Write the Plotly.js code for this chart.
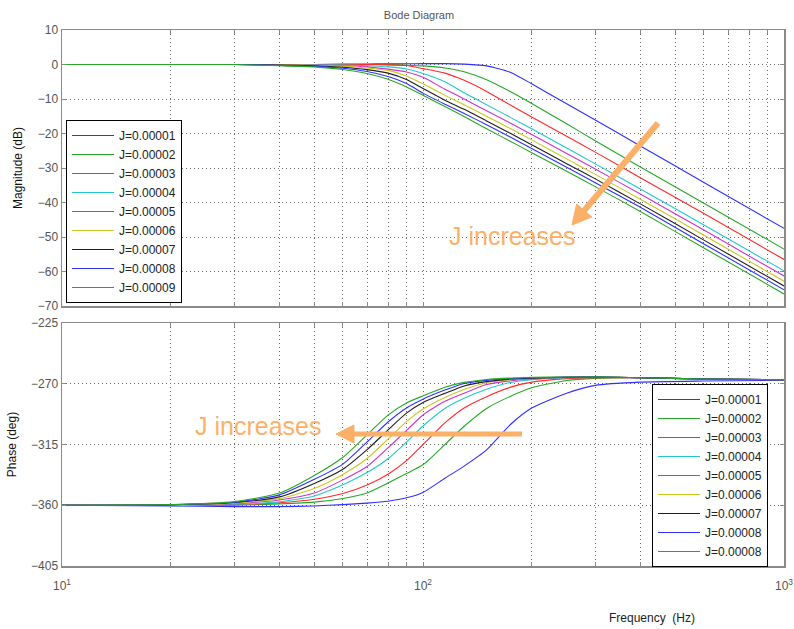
<!DOCTYPE html>
<html>
<head>
<meta charset="utf-8">
<script src="https://cdn.plot.ly/plotly-3.0.1.min.js"></script>
<style>
  html, body { margin: 0; padding: 0; background: #ffffff; }
  #chart { width: 794px; height: 629px; }
</style>
</head>
<body>
<div id="chart"></div>
<script>
// ---------------- DATA ----------------
const freq = [10, 20, 30, 40, 50, 60, 70, 80, 90, 100, 115, 130, 150, 175, 200, 250, 300, 400, 600, 1000];

const magLabels = ["J=0.00001", "J=0.00002", "J=0.00003", "J=0.00004", "J=0.00005",
                   "J=0.00006", "J=0.00007", "J=0.00008", "J=0.00009"];
const phaseLabels = ["J=0.00001", "J=0.00002", "J=0.00003", "J=0.00004", "J=0.00005",
                     "J=0.00006", "J=0.00007", "J=0.00008", "J=0.00008"];

// Magnitude (dB)
const magJ1 = [0, 0, 0, 0, 0, 0.1, 0.15, 0.2, 0.2, 0.25, 0.25, 0.1, -0.4, -2.3, -5.6, -11.4, -16.1, -23.6, -34.2, -47.5];
const magJ2 = [0, 0, 0, 0, 0, 0, 0, -0.05, -0.2, -0.4, -1.0, -2.1, -4.4, -7.9, -11.3, -17.2, -22.1, -29.7, -40.2, -53.5];
const magJ3 = [0, 0, 0, 0, 0, 0, 0, -0.1, -0.3, -1.2, -2.5, -4.6, -7.8, -11.8, -15.2, -20.8, -25.4, -32.8, -43.2, -56.5];
const magJ4 = [0, 0, 0, 0, -0.05, -0.15, -0.35, -0.7, -1.3, -2.6, -5.0, -8.2, -11.65, -15.4, -18.65, -24.2, -28.8, -36.1, -46.5, -59.8];
const magJ5 = [0, 0, 0, 0, -0.15, -0.35, -0.7, -1.35, -2.15, -3.7, -7.15, -10.0, -13.4, -17.05, -20.3, -25.8, -30.3, -37.55, -48, -61.3];
const magJ6 = [0, 0, 0, -0.05, -0.25, -0.5, -1.0, -1.7, -3.3, -5.6, -8.95, -11.65, -15.0, -18.6, -21.85, -27.35, -31.85, -39.05, -49.5, -62.8];
const magJ7 = [0, 0, 0, -0.15, -0.35, -0.8, -1.5, -2.5, -4.35, -6.95, -10.35, -13.0, -16.35, -20.0, -23.25, -28.75, -33.15, -40.4, -50.9, -64.2];
const magJ8 = [0, 0, 0, -0.25, -0.55, -1.1, -2.05, -3.5, -5.5, -8.3, -11.5, -14.2, -17.45, -21.1, -24.35, -29.8, -34.25, -41.4, -52, -65.3];
const magJ9 = [0, 0, 0, -0.35, -0.7, -1.45, -2.6, -4.3, -6.5, -8.9, -12.2, -15.1, -18.65, -22.3, -25.55, -30.95, -35.4, -42.6, -53.2, -66.5];

// Phase (deg)
const phJ1 = [-360, -360.5, -361, -361, -360.5, -359.5, -358.4, -357, -354.5, -350.5, -340, -331, -319, -300, -288, -277, -271.2, -268.8, -268, -267.5];
const phJ2 = [-360, -360, -360, -359, -357.7, -355, -351, -343.5, -336.5, -330, -315, -301.5, -288.3, -279.2, -273, -267.6, -266, -265.5, -266.5, -267];
const phJ3 = [-360, -360, -359.6, -358.2, -355.6, -351.3, -345, -337, -327, -315, -299, -288, -279.6, -272.5, -268.8, -266.2, -265.5, -265.5, -266.5, -267];
const phJ4 = [-360, -360, -359.3, -357.5, -353.1, -344.8, -335.8, -325.6, -313.3, -301.3, -288.3, -280.8, -274.1, -269, -267, -265.5, -265.3, -265.5, -266.5, -267];
const phJ5 = [-360, -360, -358.8, -356.1, -351, -341.2, -331.3, -317.5, -304.6, -293.1, -283, -277, -270.6, -267.8, -266.4, -265.3, -265.2, -265.5, -266.5, -267];
const phJ6 = [-360, -360, -358.4, -355.1, -347.6, -337.2, -325.4, -311, -298.1, -288.7, -280.1, -274.2, -269.3, -267, -266, -265.2, -265, -265.5, -266.5, -267];
const phJ7 = [-360, -359.7, -358, -353.8, -343.8, -333.3, -318.8, -304.2, -291.8, -283.9, -277.1, -271.6, -268.4, -266.5, -265.8, -265.2, -265, -265.5, -266.5, -267];
const phJ8 = [-360, -359.6, -357.9, -352.3, -340.8, -329.5, -313.1, -298.3, -287.9, -281.4, -274.7, -269.8, -267.5, -266.2, -265.6, -265.1, -265, -265.5, -266.5, -267];
const phJ9 = [-360, -359.5, -357.3, -351, -337.9, -324.4, -307.8, -293.2, -284.2, -279, -272.6, -269, -266.8, -265.8, -265.3, -265, -265, -265.5, -266.5, -267];

const magSeries = [magJ1, magJ2, magJ3, magJ4, magJ5, magJ6, magJ7, magJ8, magJ9];
const phSeries = [phJ1, phJ2, phJ3, phJ4, phJ5, phJ6, phJ7, phJ8, phJ9];

// Axis ticks
const xTickVals = [10, 100, 1000];
const xTickText = ["10<sup>1</sup>", "10<sup>2</sup>", "10<sup>3</sup>"];
const xMinorVals = [20, 30, 40, 50, 60, 70, 80, 90, 200, 300, 400, 500, 600, 700, 800, 900];
const magTickVals = [-70, -60, -50, -40, -30, -20, -10, 0, 10];
const phTickVals = [-405, -360, -315, -270, -225];

// ---------------- STYLE ----------------
const colors = ["#2f2fff", "#26a826", "#ff2a2a", "#22c8c8", "#cc33cc", "#c8c820", "#1e1e1e", "#2f2fff", "#26a826"];
const FONT = "Liberation Sans, Arial, sans-serif";
const orange = "#fbb068";

const traces = [];
magSeries.forEach((ys, i) => {
  traces.push({
    x: freq, y: ys, xaxis: "x", yaxis: "y", type: "scatter", mode: "lines",
    name: magLabels[i], legend: "legend",
    line: { color: colors[i], width: 1.1, shape: "spline", smoothing: 0.6 }
  });
});
phSeries.forEach((ys, i) => {
  traces.push({
    x: freq, y: ys, xaxis: "x2", yaxis: "y2", type: "scatter", mode: "lines",
    name: phaseLabels[i], legend: "legend2",
    line: { color: colors[i], width: 1.1, shape: "spline", smoothing: 0.6 }
  });
});

const GRID = { gridcolor: "#6a6a6a", gridwidth: 1, griddash: "1px,3px" };
const axisCommon = Object.assign({
  showline: true, mirror: "ticks", linecolor: "#8a8a8a", linewidth: 1.5,
  ticks: "inside", ticklen: 4, tickcolor: "#8a8a8a",
  showgrid: true, zeroline: false,
  tickfont: { family: FONT, size: 12, color: "#555" }
}, GRID);
const xMinor = Object.assign({ tickmode: "array", tickvals: xMinorVals, ticks: "inside", ticklen: 4,
  tickcolor: "#8a8a8a", showgrid: true }, GRID);

const L = 62, R = 784, T = 30, B = 566;
const W = 794, H = 629;
const px = (x) => (x - L) / (R - L);
const py = (y) => (B - y) / (B - T);

// arrow geometry (pixel positions of the hand-drawn arrows)
const a1 = { tail: [658, 123], tip: [572, 225] };
const a2 = { tail: [522, 434], tip: [336, 434] };
function arrowShapes(a, headLen, halfW, width) {
  const dx = a.tip[0] - a.tail[0], dy = a.tip[1] - a.tail[1];
  const len = Math.hypot(dx, dy), ux = dx / len, uy = dy / len;
  const bx = a.tip[0] - headLen * ux, by = a.tip[1] - headLen * uy;
  const nx = -uy, ny = ux;
  const c1 = [bx + halfW * nx, by + halfW * ny], c2 = [bx - halfW * nx, by - halfW * ny];
  return [
    { type: "line", xref: "paper", yref: "paper", x0: px(a.tail[0]), y0: py(a.tail[1]),
      x1: px(bx + 2 * ux), y1: py(by + 2 * uy), line: { color: orange, width: width } },
    { type: "path", xref: "paper", yref: "paper",
      path: `M ${px(a.tip[0])} ${py(a.tip[1])} L ${px(c1[0])} ${py(c1[1])} L ${px(c2[0])} ${py(c2[1])} Z`,
      fillcolor: orange, line: { color: orange, width: 1 } }
  ];
}

const layout = {
  width: W, height: H,
  paper_bgcolor: "#ffffff", plot_bgcolor: "#ffffff",
  margin: { l: L, r: W - R, t: T, b: H - B },
  font: { family: FONT, size: 12, color: "#222" },
  title: { text: "Bode Diagram", font: { family: FONT, size: 11, color: "#555" },
           x: px(419), xref: "paper", xanchor: "center", y: 1 - 15 / H, yanchor: "middle" },
  xaxis: Object.assign({}, axisCommon, {
    type: "log", range: [1, 3], domain: [0, 1], anchor: "y",
    tickvals: xTickVals, ticktext: xTickText, showticklabels: false, minor: xMinor
  }),
  yaxis: Object.assign({}, axisCommon, {
    range: [-70, 10], domain: [py(306), 1], anchor: "x",
    tickvals: magTickVals,
    title: { text: "Magnitude (dB)", font: { family: FONT, size: 12, color: "#111" }, standoff: 12 }
  }),
  xaxis2: Object.assign({}, axisCommon, {
    type: "log", range: [1, 3], domain: [0, 1], anchor: "y2",
    tickvals: xTickVals, ticktext: xTickText, minor: xMinor, ticklabelstandoff: 8
  }),
  yaxis2: Object.assign({}, axisCommon, {
    range: [-405, -225], domain: [0, py(323)], anchor: "x2",
    tickvals: phTickVals,
    title: { text: "Phase (deg)", font: { family: FONT, size: 12, color: "#111" }, standoff: 12 }
  }),
  legend: {
    x: px(66), y: py(120), xanchor: "left", yanchor: "top",
    bgcolor: "#ffffff", bordercolor: "#000", borderwidth: 1, itemwidth: 42,
    font: { family: FONT, size: 12, color: "#222" }, tracegroupgap: 0
  },
  legend2: {
    x: px(652), y: py(384), xanchor: "left", yanchor: "top",
    bgcolor: "#ffffff", bordercolor: "#000", borderwidth: 1, itemwidth: 42,
    font: { family: FONT, size: 12, color: "#222" }, tracegroupgap: 0
  },
  shapes: [].concat(arrowShapes(a1, 19, 10, 6), arrowShapes(a2, 18, 9, 5)),
  annotations: [
    { text: "J increases", xref: "paper", yref: "paper", x: px(512), y: py(236),
      showarrow: false, font: { family: FONT, size: 25, color: orange }, xanchor: "center", yanchor: "middle" },
    { text: "J increases", xref: "paper", yref: "paper", x: px(258), y: py(426),
      showarrow: false, font: { family: FONT, size: 25, color: orange }, xanchor: "center", yanchor: "middle" },
    { text: "Frequency\u00a0 (Hz)", xref: "paper", yref: "paper", x: px(652), y: py(618),
      showarrow: false, font: { family: FONT, size: 12, color: "#222" }, xanchor: "center", yanchor: "middle" }
  ],
  showlegend: true
};

Plotly.newPlot("chart", traces, layout, { displayModeBar: false, staticPlot: true });
</script>
</body>
</html>
